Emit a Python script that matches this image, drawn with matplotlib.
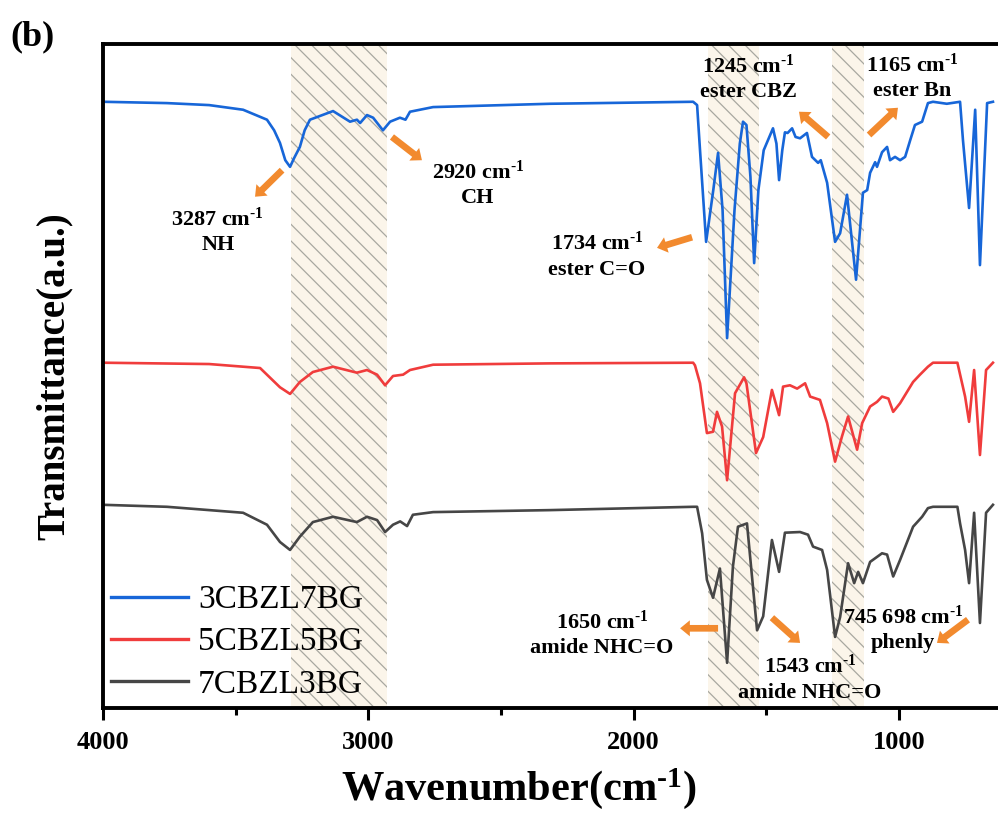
import numpy as np
import matplotlib
matplotlib.use("Agg")
import matplotlib.pyplot as plt

plt.rcParams['font.family'] = ['Liberation Serif', 'DejaVu Serif']
plt.rcParams['mathtext.fontset'] = 'custom'
plt.rcParams['mathtext.rm'] = 'Liberation Serif:bold'
plt.rcParams['mathtext.bf'] = 'Liberation Serif:bold'
plt.rcParams['mathtext.it'] = 'Liberation Serif:bold:italic'
plt.rcParams['mathtext.default'] = 'rm'
plt.rcParams['hatch.linewidth'] = 0.9

#%% data (wavenumber cm-1, transmittance a.u.)
wn_blue = [4000, 3759, 3600, 3472, 3382, 3355, 3333, 3313, 3295, 3280, 3258, 3240, 3220,
           3133, 3069, 3043, 3031, 3005, 2982, 2945, 2918, 2881, 2860, 2843, 2756, 2315,
           1776, 1761, 1750, 1727, 1700, 1682, 1665, 1648, 1620, 1600, 1588, 1575, 1560,
           1546, 1530, 1510, 1475, 1462, 1452, 1440, 1430, 1420, 1403, 1390, 1373, 1347,
           1328, 1305, 1295, 1271, 1241, 1222, 1196, 1162, 1136, 1120, 1109, 1090, 1083,
           1064, 1045, 1034, 1015, 996, 977, 958, 940, 913, 891, 872, 820, 770, 759, 736,
           713, 695, 668, 646]
t_blue = [91.3, 91.1, 90.8, 90.1, 88.6, 87.0, 85.1, 82.5, 81.5, 82.8, 84.5, 87.0, 88.6,
          89.9, 88.3, 88.6, 88.1, 89.3, 88.9, 87.0, 88.3, 88.9, 88.6, 89.8, 90.5, 91.0,
          91.3, 90.8, 84.0, 70.2, 78.0, 83.6, 75.0, 55.7, 75.0, 85.0, 88.3, 87.8, 80.0,
          67.0, 78.0, 84.0, 87.3, 85.0, 79.5, 84.0, 86.7, 86.6, 87.3, 86.0, 85.8, 86.6,
          83.0, 82.1, 82.5, 79.1, 70.2, 71.5, 77.3, 64.5, 77.6, 78.0, 80.6, 82.2, 81.5,
          83.7, 84.5, 82.5, 83.0, 82.5, 83.0, 85.5, 87.8, 88.3, 91.1, 91.3, 91.0, 91.3,
          85.5, 75.3, 90.1, 66.7, 91.1, 91.3]

wn_red = [4000, 3600, 3408, 3333, 3295, 3258, 3209, 3133, 3043, 3005, 2967, 2937, 2907,
          2869, 2843, 2756, 2315, 1776, 1769, 1750, 1724, 1701, 1686, 1667, 1648, 1618,
          1584, 1575, 1539, 1512, 1479, 1452, 1437, 1411, 1384, 1354, 1335, 1298, 1271,
          1241, 1215, 1192, 1158, 1139, 1109, 1083, 1064, 1040, 1022, 996, 947, 921, 891,
          872, 780, 751, 736, 717, 695, 672, 646]
t_red = [52.0, 51.8, 51.2, 48.3, 47.3, 49.1, 50.6, 51.4, 50.5, 50.9, 50.2, 48.6, 50.0,
         50.2, 50.9, 51.7, 51.9, 52.0, 51.6, 48.9, 41.4, 41.6, 44.6, 42.4, 34.3, 47.4,
         49.8, 48.9, 38.4, 40.8, 47.9, 44.1, 48.4, 48.6, 48.1, 48.9, 46.9, 46.4, 42.9,
         37.1, 40.9, 43.9, 38.9, 42.9, 45.4, 46.1, 46.9, 46.6, 44.6, 45.9, 49.1, 50.2,
         51.4, 52.0, 52.0, 46.9, 43.1, 50.9, 38.1, 50.9, 52.0]

wn_gray = [4000, 3759, 3472, 3382, 3333, 3295, 3258, 3209, 3133, 3043, 3005, 2967, 2937,
           2907, 2880, 2854, 2832, 2756, 2315, 1776, 1761, 1742, 1724, 1701, 1675, 1648,
           1626, 1607, 1573, 1535, 1512, 1479, 1452, 1430, 1373, 1343, 1324, 1290, 1271,
           1241, 1222, 1192, 1169, 1154, 1136, 1109, 1064, 1045, 1022, 996, 947, 913, 891,
           872, 780, 770, 751, 736, 717, 695, 672, 646]
t_gray = [30.6, 30.3, 29.4, 27.6, 25.0, 23.8, 25.8, 28.0, 28.8, 28.0, 28.8, 28.3, 26.5,
          27.6, 28.1, 27.4, 29.1, 29.5, 29.8, 30.3, 30.3, 26.3, 19.3, 16.6, 21.0, 6.8,
          21.3, 27.3, 27.8, 11.7, 13.8, 25.3, 20.5, 26.4, 26.5, 26.1, 24.3, 23.8, 20.8,
          10.7, 13.7, 21.8, 18.8, 20.5, 18.8, 22.0, 23.3, 23.1, 19.8, 22.3, 27.3, 28.8,
          30.1, 30.3, 30.3, 27.8, 23.8, 18.8, 29.4, 12.8, 29.4, 30.6]

names = ['3CBZL7BG', '5CBZL5BG', '7CBZL3BG']
colors = ['#1766d8', '#f03c3c', '#464646']

# shaded regions (cm-1)
bands = [(3293, 2929), (1719, 1526), (1251, 1132)]

# annotations: text, text position, arrow tail, arrow head
sup = 'cm$^{\\text{-}1}$'
notes = [
    ('3287 ' + sup + '\nNH', (3567, 71.8), (3325, 81.0), (3427, 77.0)),
    ('2920 ' + sup + '\nCH', (2587, 78.9), (2911, 86.0), (2798, 82.5)),
    ('1734 ' + sup + '\nester C=O', (2138, 68.1), (1780, 70.9), (1912, 69.3)),
    ('1245 ' + sup + '\nester CBZ', (1569, 94.8), (1267, 86.0), (1377, 89.8)),
    ('1165 ' + sup + '\nester Bn', (951, 95.0), (1113, 86.3), (1004, 90.4)),
    ('1650 ' + sup + '\namide NHC=O', (2119, 11.1), (1682, 12.0), (1825, 12.0)),
    ('1543 ' + sup + '\namide NHC=O', (1335, 4.4), (1479, 13.6), (1373, 9.8)),
    ('745 698 ' + sup + '\nphenly', (985, 11.9), (740, 13.3), (857, 9.8)),
]
orange = '#f28a2e'

#%%
fig = plt.figure(figsize=(9.98, 8.18), dpi=100)
ax = fig.add_axes([0.1032, 0.1345, 0.8968, 0.8117])

for lo, hi in bands:
    ax.axvspan(lo, hi, facecolor='#fbf5ea', edgecolor='#a8a8a0', hatch='\\\\',
               linewidth=0, zorder=0)

for wn, t, name, c in zip([wn_blue, wn_red, wn_gray], [t_blue, t_red, t_gray], names, colors):
    ax.plot(wn, t, color=c, linewidth=1.9, label=name, zorder=2)

for txt, tpos, tail, head in notes:
    ax.text(tpos[0], tpos[1], txt, ha='center', va='center', fontsize=16,
            fontweight='bold', linespacing=1.3, zorder=4)
    ax.annotate('', xy=head, xytext=tail,
                arrowprops=dict(facecolor=orange, edgecolor='none', width=4.8,
                                headwidth=11.5, headlength=7, shrink=0), zorder=4)

ax.set_xlim(4000, 627)
ax.set_ylim(0, 100)
ax.set_yticks([])
ax.set_xticks([4000, 3000, 2000, 1000])
ax.set_xticks([3500, 2500, 1500], minor=True)
ax.tick_params(axis='x', which='major', direction='out', length=8.5, width=2.2,
               labelsize=19, pad=8)
ax.tick_params(axis='x', which='minor', direction='out', length=5, width=2.2)
for lab in ax.get_xticklabels():
    lab.set_fontweight('bold')
for s in ['left', 'bottom', 'top']:
    ax.spines[s].set_linewidth(2.8)
ax.spines['right'].set_visible(False)

ax.set_xlabel('Wavenumber(cm$^{\\text{-}1}$)', fontsize=30.5, fontweight='bold')
ax.xaxis.set_label_coords(0.465, -0.088)
ax.set_ylabel('Transmittance(a.u.)', fontsize=28, fontweight='bold', labelpad=22)

leg = ax.legend(loc='lower left', bbox_to_anchor=(0.0, 0.0), frameon=False, fontsize=24,
                handlelength=2.3, handletextpad=0.3, labelspacing=0.35,
                borderpad=0.1, borderaxespad=0.15)
for line in leg.get_lines():
    line.set_linewidth(2.4)

fig.text(0.01, 0.975, '(b)', fontsize=26, fontweight='bold', va='top', ha='left')

fig.savefig('out.png', dpi=100)
